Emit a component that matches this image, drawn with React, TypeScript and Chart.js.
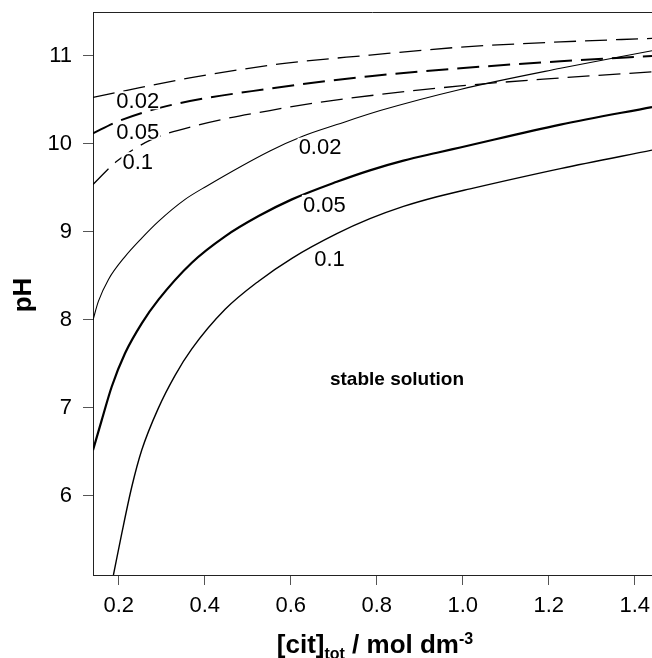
import React, { useEffect, useRef } from "react";
import { Chart, registerables } from "chart.js";

Chart.register(...registerables);

const FONT = "'Liberation Sans', Arial, Helvetica, sans-serif";

// axis ticks
const xTicks = [0.2, 0.4, 0.6, 0.8, 1.0, 1.2, 1.4];
const yTicks = [6, 7, 8, 9, 10, 11];
const xMin = 0.14;
const xMax = 1.44;
const yMin = 5.1;
const yMax = 11.5;

// dashed curves
const dashed002X = [0.14, 0.249, 0.365, 0.575, 0.784, 0.994, 1.227, 1.44];
const dashed002Y = [10.53, 10.64, 10.75, 10.91, 11.01, 11.1, 11.16, 11.2];
const dashed005X = [0.14, 0.1945, 0.311, 0.5514, 0.784, 0.994, 1.227, 1.44];
const dashed005Y = [10.12, 10.25, 10.43, 10.63, 10.77, 10.86, 10.94, 11.0];
const dashed01X = [0.14, 0.1945, 0.272, 0.3885, 0.5514, 0.691, 0.994, 1.227, 1.44];
const dashed01Y = [9.54, 9.8, 10.04, 10.22, 10.38, 10.49, 10.66, 10.75, 10.82];

// solid curves
const solid002X = [0.14, 0.1525, 0.176, 0.2145, 0.2534, 0.2923, 0.3542, 0.404, 0.5514, 0.629, 0.707, 0.808, 0.994, 1.227, 1.44];
const solid002Y = [8.0, 8.21, 8.46, 8.72, 8.93, 9.12, 9.37, 9.52, 9.92, 10.09, 10.22, 10.38, 10.62, 10.86, 11.06];
const solid005X = [0.14, 0.1603, 0.1835, 0.2145, 0.2534, 0.2923, 0.3698, 0.4473, 0.5251, 0.6026, 0.707, 0.784, 0.862, 0.94, 0.994, 1.227, 1.44];
const solid005Y = [6.52, 6.86, 7.24, 7.62, 7.96, 8.23, 8.65, 8.95, 9.18, 9.37, 9.57, 9.7, 9.81, 9.9, 9.96, 10.22, 10.42];
const solid01X = [0.1875, 0.2068, 0.2301, 0.2534, 0.2923, 0.3309, 0.3698, 0.4473, 0.5251, 0.6026, 0.707, 0.784, 0.862, 0.94, 1.017, 1.227, 1.44];
const solid01Y = [5.1, 5.57, 6.1, 6.52, 7.0, 7.37, 7.67, 8.12, 8.44, 8.7, 8.98, 9.15, 9.29, 9.4, 9.49, 9.72, 9.93];

// curve labels
const curveLabelText = ["0.02", "0.05", "0.1", "0.02", "0.05", "0.1"];
const curveLabelX = [0.244, 0.244, 0.244, 0.668, 0.678, 0.69];
const curveLabelY = [10.495, 10.148, 9.806, 9.97, 9.32, 8.707];

const regionText = "stable solution";
const regionX = 0.847;
const regionY = 7.335;

const mk = (xs: number[], ys: number[]) => xs.map((x, i) => ({ x, y: ys[i] }));

export default function App() {
  const ref = useRef<HTMLCanvasElement>(null);

  useEffect(() => {
    const annot = {
      id: "annot",
      afterDatasetsDraw(chart: any) {
        const { ctx, scales, chartArea: a } = chart;
        const xs = scales.x;
        const ys = scales.y;
        ctx.save();
        // top frame line
        ctx.strokeStyle = "#222";
        ctx.lineWidth = 1;
        ctx.beginPath();
        ctx.moveTo(a.left, a.top + 0.5);
        ctx.lineTo(a.right, a.top + 0.5);
        ctx.stroke();

        // curve labels
        const size = 22;
        ctx.font = `${size}px ${FONT}`;
        ctx.textAlign = "center";
        ctx.textBaseline = "alphabetic";
        curveLabelText.forEach((t, i) => {
          const px = xs.getPixelForValue(curveLabelX[i]);
          const py = ys.getPixelForValue(curveLabelY[i]);
          const w = ctx.measureText(t).width;
          const ch = 0.716 * size;
          ctx.fillStyle = "#fff";
          ctx.fillRect(px - w / 2 - 1, py - ch / 2 - 1, w + 2, ch + 2);
          ctx.fillStyle = "#000";
          ctx.fillText(t, px, py + ch / 2);
        });

        // region label
        const rs = 19;
        ctx.font = `bold ${rs}px ${FONT}`;
        ctx.fillStyle = "#000";
        ctx.fillText(regionText, xs.getPixelForValue(regionX), ys.getPixelForValue(regionY) + (0.716 * rs) / 2);
        ctx.restore();
      },
      afterDraw(chart: any) {
        const { ctx } = chart;
        ctx.save();
        ctx.fillStyle = "#000";
        // y title
        ctx.font = `bold 26px ${FONT}`;
        ctx.textAlign = "center";
        ctx.textBaseline = "alphabetic";
        ctx.translate(31, 295);
        ctx.rotate(-Math.PI / 2);
        ctx.fillText("pH", 0, 0);
        ctx.setTransform(1, 0, 0, 1, 0, 0);

        // x title with sub/superscript
        const big = `bold 26px ${FONT}`;
        const small = `bold 16px ${FONT}`;
        const parts: [string, string, number][] = [
          ["[cit]", big, 0],
          ["tot", small, 6],
          [" / mol dm", big, 0],
          ["-3", small, -9],
        ];
        let total = 0;
        parts.forEach(([t, f]) => {
          ctx.font = f;
          total += ctx.measureText(t).width;
        });
        let cx = 375 - total / 2;
        const base = 653;
        ctx.textAlign = "left";
        parts.forEach(([t, f, dy]) => {
          ctx.font = f;
          ctx.fillText(t, cx, base + dy);
          cx += ctx.measureText(t).width;
        });
        ctx.restore();
      },
    };

    const line = (xs: number[], ys: number[], width: number, dashed: boolean) => ({
      data: mk(xs, ys),
      showLine: true,
      borderColor: "#000",
      backgroundColor: "#000",
      borderWidth: width,
      pointRadius: 0,
      pointHoverRadius: 0,
      borderDash: dashed ? [22, 9] : [],
      cubicInterpolationMode: "monotone" as const,
      fill: false,
    });

    const chart = new Chart(ref.current!, {
      type: "scatter",
      data: {
        datasets: [
          line(dashed002X, dashed002Y, 1.3, true),
          line(dashed005X, dashed005Y, 2, true),
          line(dashed01X, dashed01Y, 1.3, true),
          line(solid002X, solid002Y, 1.1, false),
          line(solid005X, solid005Y, 2.2, false),
          line(solid01X, solid01Y, 1.4, false),
        ] as any,
      },
      options: {
        responsive: false,
        animation: false,
        devicePixelRatio: 1,
        layout: { padding: { top: 12, right: 0, left: 0, bottom: 0 } },
        plugins: { legend: { display: false }, tooltip: { enabled: false } },
        scales: {
          x: {
            type: "linear",
            min: xMin,
            max: xMax,
            afterBuildTicks: (s: any) => {
              s.ticks = xTicks.map((v) => ({ value: v }));
            },
            afterFit: (s: any) => {
              s.height = 83;
              s.paddingLeft = 0;
              s.paddingRight = 0;
            },
            grid: { drawOnChartArea: false, tickLength: 10, tickColor: "#555", lineWidth: 1 },
            border: { color: "#222", width: 1 },
            ticks: {
              font: { family: FONT, size: 22 },
              color: "#000",
              padding: 8,
              maxRotation: 0,
              callback: (v: any) => Number(v).toFixed(1),
            },
          },
          y: {
            type: "linear",
            min: yMin,
            max: yMax,
            afterBuildTicks: (s: any) => {
              s.ticks = yTicks.map((v) => ({ value: v }));
            },
            afterFit: (s: any) => {
              s.width = 93;
              s.paddingTop = 0;
              s.paddingBottom = 0;
            },
            grid: { drawOnChartArea: false, tickLength: 10, tickColor: "#555", lineWidth: 1 },
            border: { color: "#222", width: 1 },
            ticks: {
              font: { family: FONT, size: 22 },
              color: "#000",
              padding: 11,
              callback: (v: any) => String(v),
            },
          },
        },
      },
      plugins: [annot],
    });
    return () => chart.destroy();
  }, []);

  return (
    <div style={{ position: "fixed", left: 0, top: 0, width: 652, height: 658, background: "#fff" }}>
      <canvas ref={ref} width={652} height={658} style={{ display: "block" }} />
    </div>
  );
}
